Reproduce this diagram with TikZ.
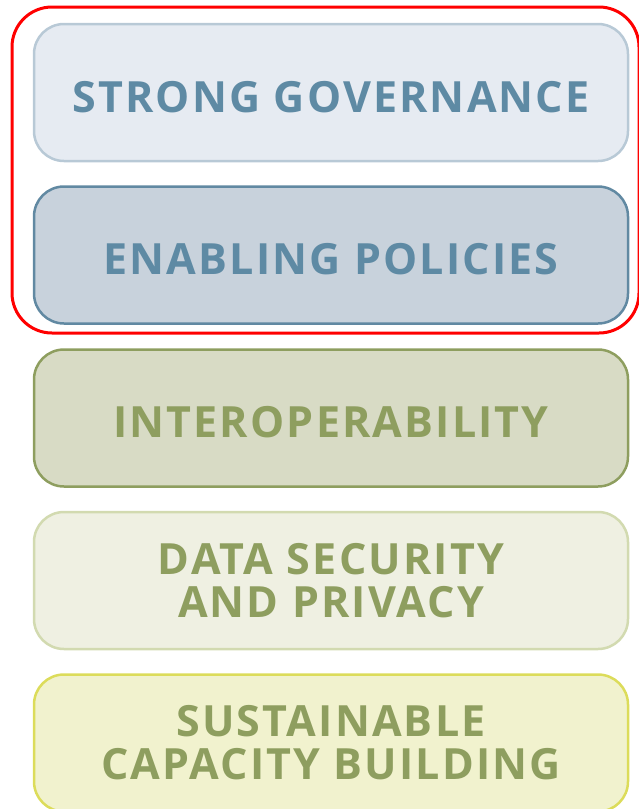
\documentclass[tikz,border=0pt]{standalone}
\usepackage{fontspec}
\usepackage{xcolor}
\setmainfont{Open Sans}[LetterSpace=5]

\definecolor{govfill}{HTML}{E6EBF2}
\definecolor{govline}{HTML}{B8C9D6}
\definecolor{polfill}{HTML}{C8D2DC}
\definecolor{polline}{HTML}{6189A2}
\definecolor{bluetext}{HTML}{5E8AA4}
\definecolor{intfill}{HTML}{D8DBC5}
\definecolor{intline}{HTML}{8E9E5F}
\definecolor{greentext}{HTML}{8E9E5F}
\definecolor{secfill}{HTML}{EFF0E2}
\definecolor{secline}{HTML}{D2DAB0}
\definecolor{capfill}{HTML}{F1F2CE}
\definecolor{capline}{HTML}{DCDC5A}

\begin{document}
\begin{tikzpicture}[x=1pt, y=-1pt,
  pillar/.style={draw, rounded corners=30pt, line width=2.5pt,
    minimum width=594pt, minimum height=137pt, align=center,
    font=\fontsize{43}{43}\selectfont\bfseries},
  oneline/.style={text height=39pt, text depth=0pt},
  redframe/.style={draw=red, line width=3pt, rounded corners=40pt}]
  \useasboundingbox (0,0) rectangle (639,809);

  % Define the pillars
  \node[pillar, oneline, fill=govfill, draw=govline, text=bluetext] (gov) at (331,92.5) {STRONG GOVERNANCE};
  \node[pillar, oneline, fill=polfill, draw=polline, text=bluetext] (pol) at (331,255) {ENABLING POLICIES};
  \node[pillar, oneline, fill=intfill, draw=intline, text=greentext] (intop) at (331,418) {INTEROPERABILITY};
  \node[pillar, fill=secfill, draw=secline, text=greentext] (sec) at (331,580.5) {DATA SECURITY\\AND PRIVACY};
  \node[pillar, fill=capfill, draw=capline, text=greentext] (cap) at (331,743) {SUSTAINABLE\\CAPACITY BUILDING};

  % Draw the highlight
  \draw[redframe] (12,7) rectangle (639,333);
\end{tikzpicture}
\end{document}
